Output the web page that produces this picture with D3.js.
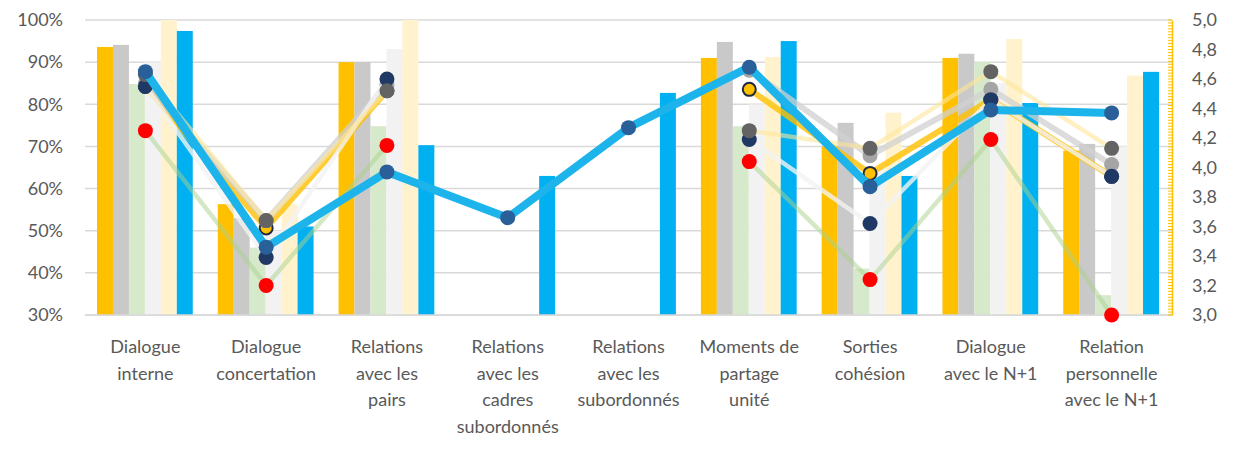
<!DOCTYPE html>
<html>
<head>
<meta charset="utf-8">
<script src="https://cdn.jsdelivr.net/npm/d3@7"></script>
<style>
  body { margin: 0; background: #fff; }
  text { font-family: Lato, "Open Sans", sans-serif; fill: #595959; }
</style>
</head>
<body>
<div id="chart"></div>
<script>
var svgWidth = 1233;
var svgHeight = 449;

var margin = { top: 20, right: 61, bottom: 134, left: 85 };
var width = svgWidth - margin.left - margin.right;
var height = svgHeight - margin.top - margin.bottom;

// categories (label lines)
var categories = [
  ["Dialogue", "interne"],
  ["Dialogue", "concertation"],
  ["Relations", "avec les", "pairs"],
  ["Relations", "avec les", "cadres", "subordonnés"],
  ["Relations", "avec les", "subordonnés"],
  ["Moments de", "partage", "unité"],
  ["Sorties", "cohésion"],
  ["Dialogue", "avec le N+1"],
  ["Relation", "personnelle", "avec le N+1"]
];

// bar series (left axis, %)
var barOrange = [93.6, 56.3, 90, null, null, 91, 70, 91, 69];
var barGray = [94.1, 53, 90, null, null, 94.8, 75.6, 92, 70.6];
var barGreen = [84.8, 46, 74.8, null, null, 74.8, 41, 90, 34.7];
var barLight = [90, 50, 93.1, null, null, 80, 65, 85, 70];
var barPale = [100, 56.3, 100, null, null, 91.2, 78, 95.5, 86.8];
var barBlue = [97.4, 51, 70.3, 63, 82.7, 95, 63, 80.3, 87.7];

// line series (right axis, score)
var lineOrange = [4.55, 3.59, 4.52, null, null, 4.53, 3.96, 4.46, 3.94];
var lineGray = [4.57, 3.64, 4.56, null, null, 4.66, 4.08, 4.53, 4.02];
var lineGreen = [4.25, 3.20, 4.15, null, null, 4.04, 3.24, 4.19, 3.00];
var lineWhite = [4.55, 3.39, 4.60, null, null, 4.19, 3.62, 4.46, 3.94];
var linePale = [4.63, 3.64, 4.52, null, null, 4.25, 4.13, 4.65, 4.13];
var lineBlue = [4.65, 3.46, 3.97, 3.66, 4.27, 4.68, 3.87, 4.39, 4.37];

// tick labels
var leftTicks = [30, 40, 50, 60, 70, 80, 90, 100];
var rightTicks = [3.0, 3.2, 3.4, 3.6, 3.8, 4.0, 4.2, 4.4, 4.6, 4.8, 5.0];

var barSeries = [
  { values: barOrange, color: "#FFC000" },
  { values: barGray, color: "#C9C9C9" },
  { values: barGreen, color: "#D6E9CA" },
  { values: barLight, color: "#F2F2F2" },
  { values: barPale, color: "#FFF2CC" },
  { values: barBlue, color: "#00B0F0" }
];

var lineSeries = [
  { values: lineOrange, stroke: "#FFC000", opacity: 0.8, w: 6, fill: "#FFC000", mstroke: "#1F2A44" },
  { values: lineGray, stroke: "#D0D0D0", opacity: 0.75, w: 6, fill: "#A5A5A5", mstroke: null },
  { values: lineGreen, stroke: "#A9D18E", opacity: 0.5, w: 4.5, fill: "#FF0000", mstroke: null },
  { values: lineWhite, stroke: "#F2F2F2", opacity: 0.8, w: 4.5, fill: "#203864", mstroke: null },
  { values: linePale, stroke: "#FFE699", opacity: 0.6, w: 4.5, fill: "#636363", mstroke: null },
  { values: lineBlue, stroke: "#1CB4EA", opacity: 1, w: 8, fill: "#2A6099", mstroke: null }
];

var svg = d3.select("#chart")
  .append("svg")
  .attr("width", svgWidth)
  .attr("height", svgHeight);

var chartGroup = svg.append("g")
  .attr("transform", `translate(${margin.left}, ${margin.top})`);

var idx = d3.range(categories.length);

var xBand = d3.scaleBand()
  .domain(idx)
  .range([0, width]);

var xInner = d3.scaleBand()
  .domain(d3.range(barSeries.length))
  .range([12, xBand.bandwidth() - 13]);

var yLeft = d3.scaleLinear().domain([30, 100]).range([height, 0]);
var yRight = d3.scaleLinear().domain([3, 5]).range([height, 0]);

// gridlines
chartGroup.append("g")
  .selectAll("line")
  .data(leftTicks)
  .enter()
  .append("line")
  .attr("x1", 0)
  .attr("x2", width)
  .attr("y1", d => yLeft(d))
  .attr("y2", d => yLeft(d))
  .attr("stroke", "#D9D9D9")
  .attr("stroke-width", 1.5);

// left axis labels
var leftAxis = d3.axisLeft(yLeft)
  .tickValues(leftTicks)
  .tickFormat(d => d + "%")
  .tickSize(0)
  .tickPadding(22);

var la = chartGroup.append("g").call(leftAxis);
la.select(".domain").remove();
la.selectAll("text").style("font-size", "18px").attr("fill", "#595959");

// bars
barSeries.forEach(function(s, si) {
  chartGroup.append("g")
    .selectAll("rect")
    .data(s.values.map((v, i) => ({ v: v, i: i })).filter(d => d.v != null))
    .enter()
    .append("rect")
    .attr("x", d => xBand(d.i) + xInner(si))
    .attr("width", xInner.bandwidth())
    .attr("y", d => yLeft(d.v))
    .attr("height", d => height - yLeft(d.v))
    .attr("fill", s.color);
});

// bottom baseline
chartGroup.append("line")
  .attr("x1", 0).attr("x2", width)
  .attr("y1", height).attr("y2", height)
  .attr("stroke", "#D9D9D9")
  .attr("stroke-width", 1.5);

// lines + markers
var cx = i => xBand(i) + xBand.bandwidth() / 2;

lineSeries.forEach(function(s) {
  var pts = s.values.map((v, i) => ({ v: v, i: i }));
  var line = d3.line()
    .defined(d => d.v != null)
    .x(d => cx(d.i))
    .y(d => yRight(d.v));

  chartGroup.append("path")
    .datum(pts)
    .attr("d", line)
    .attr("fill", "none")
    .attr("stroke", s.stroke)
    .attr("stroke-opacity", s.opacity)
    .attr("stroke-width", s.w)
    .attr("stroke-linejoin", "round");

  chartGroup.append("g")
    .selectAll("circle")
    .data(pts.filter(d => d.v != null))
    .enter()
    .append("circle")
    .attr("cx", d => cx(d.i))
    .attr("cy", d => yRight(d.v))
    .attr("r", s.mstroke ? 6.5 : 7.5)
    .attr("fill", s.fill)
    .attr("stroke", s.mstroke || "none")
    .attr("stroke-width", 2);
});

// right axis
var rightAxis = d3.axisRight(yRight)
  .tickValues(rightTicks)
  .tickFormat(d => d3.format(".1f")(d).replace(".", ","))
  .tickSize(0)
  .tickPadding(20);

var ra = chartGroup.append("g")
  .attr("transform", `translate(${width}, 0)`)
  .call(rightAxis);
ra.select(".domain").attr("stroke", "#FFC000").attr("stroke-width", 1.5);
ra.selectAll("text").style("font-size", "18px").attr("fill", "#595959");

// minor ticks on right axis
ra.append("g")
  .selectAll("line")
  .data(d3.range(3, 5.001, 0.02))
  .enter()
  .append("line")
  .attr("x1", -4).attr("x2", 0)
  .attr("y1", d => yRight(d)).attr("y2", d => yRight(d))
  .attr("stroke", "#FFC000")
  .attr("stroke-width", 1);

// category labels
var labels = chartGroup.append("g")
  .selectAll("text")
  .data(categories)
  .enter()
  .append("text")
  .attr("x", (d, i) => cx(i))
  .attr("y", height + 38)
  .attr("text-anchor", "middle")
  .style("font-size", "18px");

labels.selectAll("tspan")
  .data(d => d)
  .enter()
  .append("tspan")
  .attr("x", function() { return d3.select(this.parentNode).attr("x"); })
  .attr("dy", (d, j) => j === 0 ? 0 : 26.5)
  .text(d => d);
</script>
</body>
</html>
